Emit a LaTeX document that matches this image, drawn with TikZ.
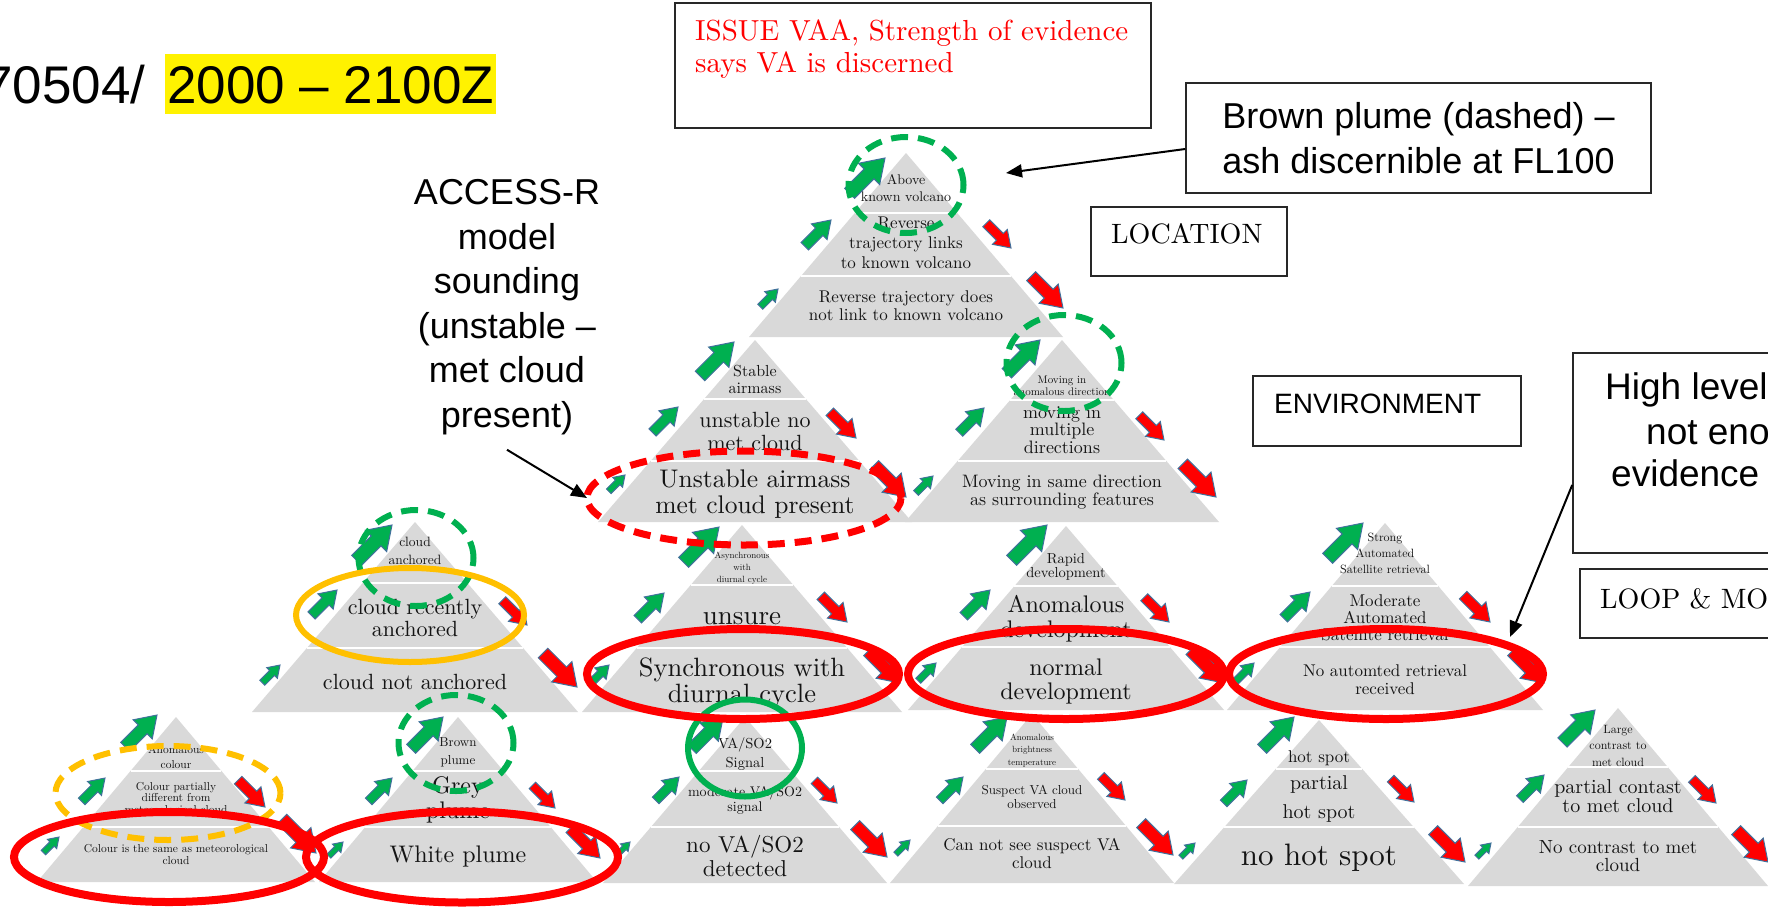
\documentclass[tikz,border=0pt]{standalone}
\usepackage{fontspec}
\setmainfont{lmroman10-regular.otf}
\newfontfamily\arialf{Liberation Sans}
\usetikzlibrary{shapes.geometric,arrows.meta}
\definecolor{pgray}{RGB}{217,217,217}
\definecolor{ggreen}{RGB}{0,176,80}
\definecolor{aedge}{RGB}{65,113,156}
\definecolor{gold}{RGB}{255,192,0}
\definecolor{boxline}{RGB}{40,40,40}

\tikzset{
  band/.style={draw=white,line width=2.5pt},
  ptext/.style={inner sep=0pt,align=center,text=black!92},
  garrow/.style={fill=ggreen,draw=aedge,line width=1pt},
  rarrow/.style={fill=red,draw=aedge,line width=1pt},
  oval/.style={ellipse,inner sep=0pt,outer sep=0pt},
  gdash/.style={oval,draw=ggreen,line width=6pt,dash pattern=on 17pt off 10pt},
  gsolid/.style={oval,draw=ggreen,line width=6pt},
  rsolid/.style={oval,draw=red,line width=8pt},
  rdash/.style={oval,draw=red,line width=7pt,dash pattern=on 17pt off 10pt},
  osolid/.style={oval,draw=gold,line width=6pt},
  odash/.style={oval,draw=gold,line width=6pt,dash pattern=on 17pt off 10pt},
  framebox/.style={draw=boxline,line width=1.6pt,inner sep=0pt},
  conn/.style={draw=black,line width=2pt,-{Triangle[length=16pt,width=13pt]}},
  lab/.style={anchor=base west,inner sep=0pt},
}

% three-band pyramid: centre x, apex y, divider 1 y, divider 2 y, base y, half base width
\newcommand\pyramidshape[6]{%
  \fill[pgray] (#1,#2) -- ({#1+#6},#5) -- ({#1-#6},#5) -- cycle;
  \draw[band] ({#1-(#3-#2)/(#5-#2)*#6},#3) -- ({#1+(#3-#2)/(#5-#2)*#6},#3);
  \draw[band] ({#1-(#4-#2)/(#5-#2)*#6},#4) -- ({#1+(#4-#2)/(#5-#2)*#6},#4);}

% band label: name, x, first baseline, last baseline, font size, line skip, text
\newcommand\bandtext[7]{%
  \node[ptext,font={\fontsize{#5}{#6}\selectfont\lineskiplimit=-50pt}] (#1)
    at (#2,{(#3+#4)/2-0.25*#5}) {#7};}

% block arrow: style, tip x, tip y, length, angle
\newcommand\blockarrow[5]{%
  \begin{scope}[shift={(#2,#3)},rotate=#5]
    \path[#1] (0,0) -- ({-0.45*#4},{0.3*#4}) -- ({-0.45*#4},{0.14*#4})
      -- ({-#4},{0.14*#4}) -- ({-#4},{-0.14*#4}) -- ({-0.45*#4},{-0.14*#4})
      -- ({-0.45*#4},{-0.3*#4}) -- cycle;
  \end{scope}}
\newcommand\upgreen[3]{\blockarrow{garrow}{#1}{#2}{#3}{45}}
\newcommand\downred[3]{\blockarrow{rarrow}{#1}{#2}{#3}{-45}}

\begin{document}
\begin{tikzpicture}[x=1pt,y=-1pt]
\useasboundingbox (0,0) rectangle (1768,910);
\fill[white] (0,0) rectangle (1768,910);

% ---- pyramids ----
\pyramidshape{906}{153}{213}{276}{337}{157}
\pyramidshape{755}{340}{399}{461}{522}{157}
\pyramidshape{1062}{340}{400}{461}{522}{157}
\pyramidshape{415}{522}{583}{648}{712}{163}
\pyramidshape{742}{525}{585}{648}{712}{160}
\pyramidshape{1066}{526}{586}{647}{710}{158}
\pyramidshape{1385}{523}{586}{647}{710}{158}
\pyramidshape{176}{717}{771}{827}{882}{139}
\pyramidshape{458}{717}{771}{827}{882}{139}
\pyramidshape{745}{717}{771}{827}{883}{142}
\pyramidshape{1032}{714}{769}{826}{883}{142}
\pyramidshape{1319}{720}{769}{827}{884}{145}
\pyramidshape{1618}{708}{767}{827}{886}{150}

% ---- band labels ----
\bandtext{a1}{906}{183}{200}{14}{17}{Above\\known volcano}
\bandtext{a2}{906}{227}{267}{17}{20}{Reverse\\trajectory links\\to known volcano}
\bandtext{a3}{906}{301}{319}{17}{18}{Reverse trajectory does\\not link to known volcano}
\bandtext{b1}{755}{375}{392}{16}{17}{Stable\\airmass}
\bandtext{b2}{755}{425}{448}{22}{23}{unstable no\\met cloud}
\bandtext{b3}{755}{487}{513}{25.5}{26}{Unstable airmass\\met cloud present}
\bandtext{c1}{1062}{383}{395}{11}{12}{Moving in\\anomalous direction}
\bandtext{c2}{1062}{417}{452}{18}{17.5}{moving in\\multiple\\directions}
\bandtext{c3}{1062}{488}{506}{18}{18}{Moving in same direction\\as surrounding features}
\bandtext{d1}{415}{545}{563}{13.5}{18}{cloud\\anchored}
\bandtext{d2}{415}{612}{634}{22}{22}{cloud recently\\anchored}
\bandtext{d3}{415}{687}{687}{22}{22}{cloud not anchored}
\bandtext{e1}{742}{558}{582}{9}{12}{Asynchronous\\with\\diurnal cycle}
\bandtext{e2}{742}{625}{625}{27}{27}{unsure}
\bandtext{e3}{742}{676}{702}{26.5}{26}{Synchronous with\\diurnal cycle}
\bandtext{f1}{1066}{563}{577}{14.5}{14}{Rapid\\development}
\bandtext{f2}{1066}{612}{637}{24}{25}{Anomalous\\development}
\bandtext{f3}{1066}{675}{699}{24}{24}{normal\\development}
\bandtext{g1}{1385}{540}{572}{12}{16}{Strong\\Automated\\Satellite retrieval}
\bandtext{g2}{1385}{605}{639}{17}{17}{Moderate\\Automated\\Satellite retrieval}
\bandtext{g3}{1385}{675}{693}{17}{18}{No automted retrieval\\received}
\bandtext{h1}{176}{752}{767}{11.5}{15}{Anomalous\\colour}
\bandtext{h2}{176}{790}{813}{11.5}{11.5}{Colour partially\\different from\\meteorological cloud}
\bandtext{h3}{176}{851}{863}{11.5}{12}{Colour is the same as meteorological\\cloud}
\bandtext{i1}{458}{747}{765}{13}{18}{Brown\\plume}
\bandtext{i2}{458}{793}{818}{24}{25}{Grey\\plume}
\bandtext{i3}{458}{862}{862}{24}{24}{White plume}
\bandtext{j1}{745}{748}{767}{14.5}{19}{VA/SO2\\Signal}
\bandtext{j2}{745}{796}{811}{14}{15}{moderate VA/SO2\\signal}
\bandtext{j3}{745}{850}{874}{23}{24}{no VA/SO2\\detected}
\bandtext{k1}{1032}{740}{765}{9}{12.5}{Anomalous\\brightness\\temperature}
\bandtext{k2}{1032}{793}{807}{13}{14}{Suspect VA cloud\\observed}
\bandtext{k3}{1032}{849}{867}{17}{18}{Can not see suspect VA\\cloud}
\bandtext{l1}{1319}{762}{762}{17}{17}{hot spot}
\bandtext{l2}{1319}{789}{818}{20}{29}{partial\\hot spot}
\bandtext{l3}{1319}{865}{865}{31}{31}{no hot spot}
\bandtext{m1}{1618}{732}{765}{12}{16.5}{Large\\contrast to\\met cloud}
\bandtext{m2}{1618}{792}{811}{20}{19}{partial contast\\to met cloud}
\bandtext{m3}{1618}{852}{870}{19}{18}{No contrast to met\\cloud}

% ---- up / down block arrows ----
\upgreen{885}{158}{50}\upgreen{831}{220}{37}\upgreen{778}{289}{25}
\downred{1011}{248}{35}\downred{1063}{308}{45}
\upgreen{734}{342}{48}\upgreen{678}{407}{36}\upgreen{625}{475}{23}
\downred{856}{438}{37}\downred{906}{497}{45}
\upgreen{1040}{340}{47}\upgreen{984}{408}{35}\upgreen{933}{476}{24}
\downred{1164}{440}{35}\downred{1216}{497}{47}
\upgreen{392}{525}{50}\upgreen{337}{590}{36}\upgreen{280}{665}{25}
\downred{527}{625}{35}\downred{577}{687}{48}
\upgreen{719}{527}{50}\upgreen{664}{593}{37}\upgreen{609}{665}{27}
\downred{847}{622}{37}\downred{900}{683}{45}
\upgreen{1047}{525}{50}\upgreen{990}{590}{37}\upgreen{936}{663}{25}
\downred{1169}{622}{35}\downred{1224}{683}{47}
\upgreen{1363}{523}{50}\upgreen{1310}{592}{37}\upgreen{1254}{663}{26}
\downred{1490}{622}{38}\downred{1544}{683}{45}
\upgreen{157}{715}{45}\upgreen{105}{778}{33}\upgreen{59}{837}{22}
\downred{265}{807}{38}\downred{316}{853}{48}
\upgreen{443}{717}{45}\upgreen{392}{778}{33}\upgreen{343}{842}{20}
\downred{555}{808}{32}\downred{600}{858}{42}
\upgreen{723}{718}{44}\upgreen{679}{777}{33}\upgreen{630}{842}{18}
\downred{837}{803}{32}\downred{887}{857}{45}
\upgreen{1007}{717}{45}\upgreen{963}{777}{33}\upgreen{910}{840}{20}
\downred{1125}{800}{34}\downred{1173}{855}{45}
\upgreen{1294}{717}{45}\upgreen{1247}{780}{33}\upgreen{1195}{843}{20}
\downred{1414}{802}{33}\downred{1465}{862}{45}
\upgreen{1595}{710}{46}\upgreen{1544}{775}{34}\upgreen{1491}{843}{20}
\downred{1716}{803}{34}\downred{1768}{862}{45}

% ---- highlight rings ----
\node[gdash,minimum width=115pt,minimum height=96pt] (cA) at (906,185) {};
\node[gdash,minimum width=115pt,minimum height=96pt] (cC) at (1064,363) {};
\node[gdash,minimum width=115pt,minimum height=96pt] (cD) at (416,558) {};
\node[gdash,minimum width=115pt,minimum height=96pt] (cI) at (456,743) {};
\node[gsolid,minimum width=114pt,minimum height=97pt] (cJ) at (745,748) {};
\node[rdash,minimum width=314pt,minimum height=94pt] (ovB) at (744,498) {};
\node[osolid,minimum width=228pt,minimum height=94pt] (ovD) at (410,615) {};
\node[odash,minimum width=225pt,minimum height=94pt] (ovH) at (168,793) {};
\node[rsolid,minimum width=312pt,minimum height=90pt] (ovE) at (743,674) {};
\node[rsolid,minimum width=316pt,minimum height=90pt] (ovF) at (1066,674) {};
\node[rsolid,minimum width=314pt,minimum height=90pt] (ovG) at (1386,674) {};
\node[rsolid,minimum width=310pt,minimum height=90pt] (ovHr) at (169,857) {};
\node[rsolid,minimum width=312pt,minimum height=91pt] (ovI) at (462,857) {};

% ---- title ----
\node[lab,font={\arialf\fontsize{53}{60}\selectfont}] (date) at (-17,103) {70504/};
\node[lab,fill=yellow,inner xsep=2pt,inner ysep=11pt,text height=38pt,text depth=0pt,
      font={\arialf\fontsize{53}{60}\selectfont}] (time) at (165,103) {2000 – 2100Z};

% ---- text boxes ----
\node[framebox,minimum width=476pt,minimum height=125pt] (issue) at (913,65.5) {};
\node[lab,text=red,font={\fontsize{29}{32}\selectfont}] (issue1) at (695,40) {ISSUE VAA, Strength of evidence};
\node[lab,text=red,font={\fontsize{29}{32}\selectfont}] (issue2) at (695,72) {says VA is discerned};

\node[framebox,minimum width=465pt,minimum height=110pt,align=center,
      font={\arialf\fontsize{36}{45}\selectfont\lineskiplimit=-50pt}] (brown) at (1418.5,138)
      {Brown plume (dashed) –\\ash discernible at FL100};

\node[framebox,minimum width=196pt,minimum height=69pt] (location) at (1189,241.5) {};
\node[lab,font={\fontsize{28}{32}\selectfont}] (locationtxt) at (1111,243) {LOCATION};

\node[framebox,minimum width=268pt,minimum height=70pt] (environment) at (1387,411) {};
\node[lab,font={\arialf\fontsize{28}{32}\selectfont}] (environmenttxt) at (1274,413) {ENVIRONMENT};

\node[framebox,minimum width=400pt,minimum height=200pt] (high) at (1773,453) {};
\node[lab,font={\arialf\fontsize{37}{44}\selectfont}] (high1) at (1605,399) {High level};
\node[lab,font={\arialf\fontsize{37}{44}\selectfont}] (high2) at (1646,444) {not eno};
\node[lab,font={\arialf\fontsize{37}{44}\selectfont}] (high3) at (1611,486) {evidence};

\node[framebox,minimum width=400pt,minimum height=69pt] (loop) at (1780,603.5) {};
\node[lab,font={\fontsize{28}{32}\selectfont}] (looptxt) at (1600,608) {LOOP \& MO};

\node[ptext,text=black,font={\arialf\fontsize{36}{44.5}\selectfont\lineskiplimit=-50pt}] (access)
  at (507,307) {ACCESS-R\\model\\sounding\\(unstable –\\met cloud\\present)};

% ---- callout connectors ----
\coordinate (brownTip) at (1006,173);
\coordinate (highTip) at (1510,637);
\draw[conn] ([yshift=-11pt]brown.west) -- (brownTip);
\draw[conn] ([yshift=-15pt]access.south) -- (ovB.west);
\draw[conn] ([yshift=-32pt]high.west) -- (highTip);
\end{tikzpicture}
\end{document}
